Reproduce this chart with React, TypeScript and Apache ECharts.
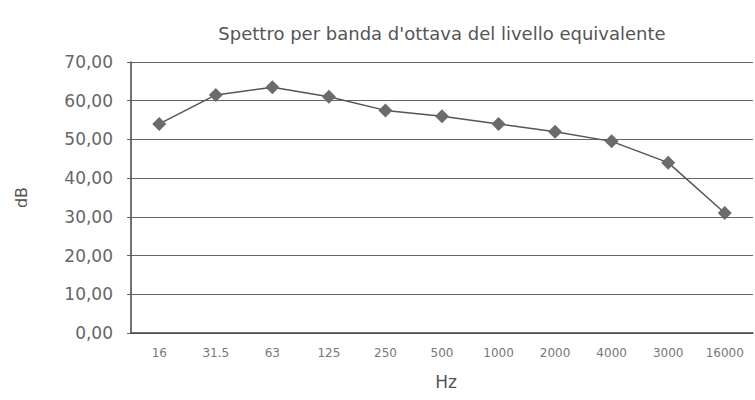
import React, { useEffect, useRef } from "react";
import * as echarts from "echarts";

const categories = ["16", "31.5", "63", "125", "250", "500", "1000", "2000", "4000", "3000", "16000"];
const levels = [54.0, 61.5, 63.5, 61.0, 57.5, 56.0, 54.0, 52.0, 49.5, 44.0, 31.0];
const yTicks = { min: 0, max: 70, interval: 10 };

export default function App() {
  const ref = useRef<HTMLDivElement>(null);
  useEffect(() => {
    if (!ref.current) return;
    const chart = echarts.init(ref.current, null, { renderer: "svg" });
    const font = "DejaVu Sans, sans-serif";
    chart.setOption({
      animation: false,
      backgroundColor: "#ffffff",
      title: {
        text: "Spettro per banda d'ottava del livello equivalente",
        left: 437,
        textAlign: "center",
        top: 19,
        textStyle: { fontFamily: font, fontSize: 18, fontWeight: "normal", color: "#555" },
      },
      grid: { left: 131, right: 2, top: 62, bottom: 67, containLabel: false },
      xAxis: {
        type: "category",
        data: categories,
        boundaryGap: true,
        name: "Hz",
        nameLocation: "middle",
        nameGap: 40,
        nameTextStyle: { fontFamily: font, fontSize: 17, color: "#555", padding: [0, 0, 0, 8] },
        axisLine: { lineStyle: { color: "#444", width: 1.5 } },
        axisTick: { show: false },
        axisLabel: { fontFamily: font, fontSize: 12, color: "#777", margin: 14 },
      },
      yAxis: {
        type: "value",
        min: yTicks.min,
        max: yTicks.max,
        interval: yTicks.interval,
        name: "dB",
        nameLocation: "middle",
        nameGap: 102,
        nameRotate: 90,
        nameTextStyle: { fontFamily: font, fontSize: 16, color: "#555" },
        axisLine: { show: true, lineStyle: { color: "#444", width: 1.5 } },
        axisTick: { show: true, length: 4, lineStyle: { color: "#666" } },
        axisLabel: {
          fontFamily: font,
          fontSize: 17,
          color: "#666",
          margin: 18,
          formatter: (v: number) => v.toFixed(2).replace(".", ","),
        },
        splitLine: { show: true, lineStyle: { color: "#666", width: 1 } },
      },
      series: [
        {
          type: "line",
          data: levels,
          symbol: "diamond",
          symbolSize: 14,
          itemStyle: { color: "#6b6b6b" },
          lineStyle: { color: "#555", width: 1.5 },
        },
      ],
    });
    return () => chart.dispose();
  }, []);
  return <div ref={ref} style={{ width: 755, height: 400, position: "absolute", left: 0, top: 0 }} />;
}
